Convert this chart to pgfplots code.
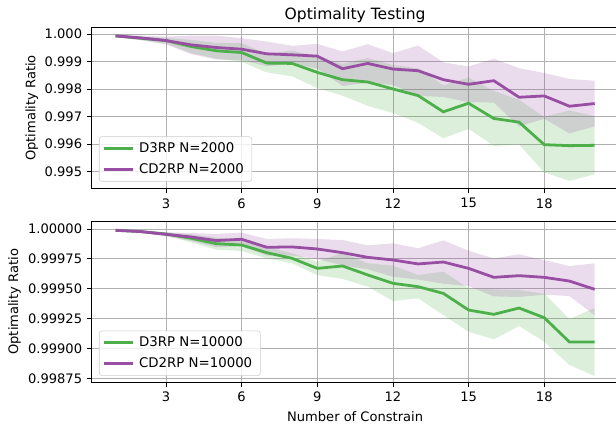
\documentclass[border=0pt]{standalone}
\usepackage{fontspec}
\setmainfont{DejaVu Sans}
\usepackage{pgfplots}
\usepackage{pgfplotstable}
\pgfplotsset{compat=1.18}
\usepgfplotslibrary{fillbetween}
\definecolor{cgreen}{HTML}{4DAF4A}
\definecolor{cpurple}{HTML}{984EA3}
\definecolor{cgrid}{HTML}{B0B0B0}
\definecolor{clegend}{HTML}{CCCCCC}

\pgfplotstableread{
x gm gs pm ps
1 0.999928 0.000048 0.999928 0.000036
2 0.999843 0.000060 0.999855 0.000084
3 0.999759 0.000100 0.999759 0.000145
4 0.999542 0.000240 0.999602 0.000337
5 0.999386 0.000290 0.999506 0.000434
6 0.999325 0.000340 0.999446 0.000398
7 0.998940 0.000340 0.999277 0.000446
8 0.998928 0.000470 0.999241 0.000325
9 0.998602 0.000570 0.999193 0.000446
10 0.998337 0.000580 0.998735 0.000627
11 0.998253 0.000870 0.998928 0.000699
12 0.998000 0.000870 0.998723 0.000578
13 0.997759 0.000990 0.998663 0.000916
14 0.997169 0.000960 0.998337 0.000627
15 0.997482 0.000930 0.998169 0.000651
16 0.996928 0.001000 0.998301 0.000795
17 0.996795 0.000810 0.997699 0.001060
18 0.995976 0.001010 0.997747 0.000831
19 0.995940 0.001280 0.997373 0.000988
20 0.995952 0.001050 0.997470 0.000831
}\topdata

\pgfplotstableread{
x gm gs pm ps
1 0.999989 0.0000056 0.999989 0.0000056
2 0.999978 0.0000084 0.999978 0.0000084
3 0.999958 0.0000139 0.999955 0.0000167
4 0.999922 0.0000334 0.999933 0.0000334
5 0.999877 0.0000501 0.999903 0.0000557
6 0.999866 0.0000501 0.999914 0.0000557
7 0.999802 0.0000474 0.999847 0.0000696
8 0.999755 0.0000418 0.999850 0.0000724
9 0.999671 0.0000557 0.999833 0.0000836
10 0.999691 0.0001086 0.999802 0.0001058
11 0.999616 0.0000975 0.999763 0.0001003
12 0.999546 0.0001476 0.999741 0.0001393
13 0.999518 0.0000975 0.999708 0.0001309
14 0.999462 0.0001811 0.999724 0.0001811
15 0.999323 0.0001811 0.999671 0.0001476
16 0.999287 0.0002089 0.999596 0.0001588
17 0.999340 0.0001504 0.999610 0.0001783
18 0.999259 0.0002006 0.999596 0.0001448
19 0.999056 0.0001922 0.999565 0.0001253
20 0.999056 0.0002841 0.999496 0.0002173
}\botdata

\pgfplotsset{
  myaxis/.style={
    scale only axis, width=379.5pt, height=116.4pt,
    xmin=0.05, xmax=20.95,
    xtick={3,6,9,12,15,18}, xticklabels={3,6,9,12,15,18},
    grid=major, major grid style={cgrid, line width=0.6pt},
    axis line style={black, line width=0.6pt},
    tick align=outside, major tick length=3.3pt,
    tick style={black, line width=0.6pt},
    tick pos=left,
    ticklabel style={font=\fontsize{9.4}{11}\selectfont},
    ylabel={Optimality Ratio},
    legend cell align=left,
    legend image code/.code={\draw[##1, line width=2pt, draw opacity=1] (0pt,0pt) -- (20.9pt,0pt);},
    legend style={at={(0,0)}, anchor=south west, xshift=5.3pt, yshift=4.8pt,
      draw=clegend, rounded corners=2pt, fill=white, fill opacity=0.8, text opacity=1,
      font=\fontsize{9.6}{11}\selectfont, inner sep=2.2pt, row sep=2.6pt,
      nodes={inner xsep=3.6pt}},
  }
}

\begin{document}
\begin{tikzpicture}
\begin{axis}[myaxis, at={(0,139.5pt)}, anchor=south west,
  ymin=0.99437, ymax=1.000244,
  ytick={0.995,0.996,0.997,0.998,0.999,1},
  yticklabels={0.995,0.996,0.997,0.998,0.999,1.000},
  legend style={yshift=0.35pt},
  every axis y label/.style={at={(axis description cs:-0.1137,0.5)}, rotate=90, anchor=center, font=\fontsize{9.4}{11}\selectfont},
  title={Optimality Testing},
  every axis title/.style={at={(axis description cs:0.5,1)}, anchor=base, yshift=5.3pt, font=\fontsize{11.2}{13}\selectfont}]
\addplot[draw=none, name path=gu, forget plot] table[x=x, y expr=\thisrow{gm}+\thisrow{gs}]{\topdata};
\addplot[draw=none, name path=gl, forget plot] table[x=x, y expr=\thisrow{gm}-\thisrow{gs}]{\topdata};
\addplot[draw=none, name path=pu, forget plot] table[x=x, y expr=\thisrow{pm}+\thisrow{ps}]{\topdata};
\addplot[draw=none, name path=pl, forget plot] table[x=x, y expr=\thisrow{pm}-\thisrow{ps}]{\topdata};
\addplot[fill=cgreen, fill opacity=0.2, draw=none, forget plot] fill between[of=gu and gl];
\addplot[fill=cpurple, fill opacity=0.2, draw=none, forget plot] fill between[of=pu and pl];
\addplot[cgreen, line width=2pt] table[x=x, y=gm]{\topdata};
\addlegendentry{D3RP N=2000}
\addplot[cpurple, line width=2pt] table[x=x, y=pm]{\topdata};
\addlegendentry{CD2RP N=2000}
\end{axis}
\begin{axis}[myaxis, at={(0,0)}, anchor=south west,
  ymin=0.998717, ymax=1.0000669,
  ytick={0.99875,0.999,0.99925,0.9995,0.99975,1},
  yticklabels={0.99875,0.99900,0.99925,0.99950,0.99975,1.00000},
  every axis y label/.style={at={(axis description cs:-0.1463,0.5)}, rotate=90, anchor=center, font=\fontsize{9.4}{11}\selectfont},
  xlabel={Number of Constrain},
  xlabel style={at={(axis description cs:0.5,0)}, anchor=center, yshift=-24.5pt, font=\fontsize{9.4}{11}\selectfont}]
\addplot[draw=none, name path=gu, forget plot] table[x=x, y expr=\thisrow{gm}+\thisrow{gs}]{\botdata};
\addplot[draw=none, name path=gl, forget plot] table[x=x, y expr=\thisrow{gm}-\thisrow{gs}]{\botdata};
\addplot[draw=none, name path=pu, forget plot] table[x=x, y expr=\thisrow{pm}+\thisrow{ps}]{\botdata};
\addplot[draw=none, name path=pl, forget plot] table[x=x, y expr=\thisrow{pm}-\thisrow{ps}]{\botdata};
\addplot[fill=cgreen, fill opacity=0.2, draw=none, forget plot] fill between[of=gu and gl];
\addplot[fill=cpurple, fill opacity=0.2, draw=none, forget plot] fill between[of=pu and pl];
\addplot[cgreen, line width=2pt] table[x=x, y=gm]{\botdata};
\addlegendentry{D3RP N=10000}
\addplot[cpurple, line width=2pt] table[x=x, y=pm]{\botdata};
\addlegendentry{CD2RP N=10000}
\end{axis}
\pgfresetboundingbox
\useasboundingbox (-65.95pt,-34.8pt) rectangle (377.6pt,275.5pt);
\end{tikzpicture}
\end{document}
